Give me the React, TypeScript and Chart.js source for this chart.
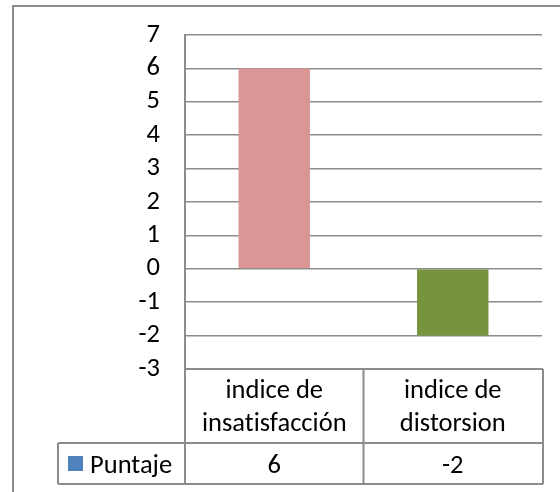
import React, { useEffect, useRef } from "react";
import { Chart, registerables } from "chart.js";

Chart.register(...registerables);

const categoryLines: string[][] = [
  ["indice de", "insatisfacción"],
  ["indice de", "distorsion"],
];
const categories = ["indice de insatisfacción", "indice de distorsion"];
const seriesName = "Puntaje";
const puntaje = [6, -2];
const pointColors = ["#D99694", "#77933C"];
const seriesColor = "#4F81BD";
const yMin = -3;
const yMax = 7;

const FONT = 'Carlito, "Open Sans", sans-serif';
const FSIZE = 26.5;
const LINE = "#8c8c8c";

const tablePlugin = {
  id: "excelTable",
  beforeDraw(chart: any) {
    const ctx = chart.ctx;
    ctx.save();
    ctx.fillStyle = "#ffffff";
    ctx.fillRect(0, 0, chart.width, chart.height);
    ctx.restore();
  },
  afterDraw(chart: any) {
    const ctx = chart.ctx;
    const area = chart.chartArea;
    const x = chart.scales.x;
    const n = categories.length;
    const left = area.left;
    const right = area.right;
    const colW = (right - left) / n;
    const top = area.bottom;
    const rowSplit = top + 74;
    const bottom = rowSplit + 41;
    const legendLeft = 58;

    ctx.save();
    ctx.strokeStyle = LINE;
    ctx.lineWidth = 2;
    ctx.beginPath();
    ctx.moveTo(13, chart.height + 5);
    ctx.lineTo(13, 6);
    ctx.lineTo(chart.width + 5, 6);
    ctx.stroke();

    ctx.beginPath();
    ctx.moveTo(left, top);
    ctx.lineTo(left, bottom);
    ctx.moveTo(right + 1, top);
    ctx.lineTo(right + 1, bottom);
    for (let i = 1; i < n; i++) {
      const cx = left + colW * i;
      ctx.moveTo(cx, top);
      ctx.lineTo(cx, bottom);
    }
    ctx.moveTo(left, top);
    ctx.lineTo(right + 1, top);
    ctx.moveTo(legendLeft, rowSplit);
    ctx.lineTo(right + 1, rowSplit);
    ctx.moveTo(legendLeft, bottom);
    ctx.lineTo(right + 1, bottom);
    ctx.moveTo(legendLeft, rowSplit);
    ctx.lineTo(legendLeft, bottom);
    ctx.stroke();

    ctx.fillStyle = "#000000";
    ctx.font = `${FSIZE}px ${FONT}`;
    if ("letterSpacing" in ctx) (ctx as any).letterSpacing = "0.01px";
    ctx.textAlign = "center";
    ctx.textBaseline = "alphabetic";
    const valBase = rowSplit + 30;
    for (let i = 0; i < n; i++) {
      const cx = x.getPixelForValue(i);
      const lines = categoryLines[i];
      lines.forEach((t, j) => {
        ctx.fillText(t, cx, top + 29 + j * 33);
      });
      ctx.fillText(String(puntaje[i]), cx, valBase);
    }
    ctx.fillStyle = seriesColor;
    ctx.fillRect(68, rowSplit + 13, 15, 15);
    ctx.fillStyle = "#000000";
    ctx.textAlign = "left";
    ctx.fillText(seriesName, 90, valBase);
    ctx.restore();
  },
};

export default function App() {
  const ref = useRef<HTMLCanvasElement | null>(null);
  useEffect(() => {
    if (!ref.current) return;
    const chart = new Chart(ref.current, {
      type: "bar",
      data: {
        labels: categories,
        datasets: [
          {
            label: seriesName,
            data: puntaje,
            backgroundColor: pointColors,
            borderWidth: 0,
            categoryPercentage: 1,
            barPercentage: 0.4,
          },
        ],
      },
      options: {
        animation: false,
        responsive: true,
        maintainAspectRatio: false,
        layout: { padding: { top: 35, right: 18, bottom: 123, left: 0 } },
        plugins: { legend: { display: false }, tooltip: { enabled: false } },
        scales: {
          x: { display: false },
          y: {
            min: yMin,
            max: yMax,
            afterFit: (s: any) => {
              s.width = 185;
              s.paddingTop = 0;
              s.paddingBottom = 0;
            },
            ticks: {
              stepSize: 1,
              autoSkip: false,
              color: "#000000",
              padding: 25,
              font: { family: FONT, size: FSIZE },
            },
            grid: { color: LINE, lineWidth: 1.5, drawTicks: false },
            border: { color: LINE, width: 2 },
          },
        },
      },
      plugins: [tablePlugin],
    });
    return () => chart.destroy();
  }, []);
  return (
    <div style={{ position: "fixed", left: 0, top: 0, width: 560, height: 492 }}>
      <canvas ref={ref} />
    </div>
  );
}
